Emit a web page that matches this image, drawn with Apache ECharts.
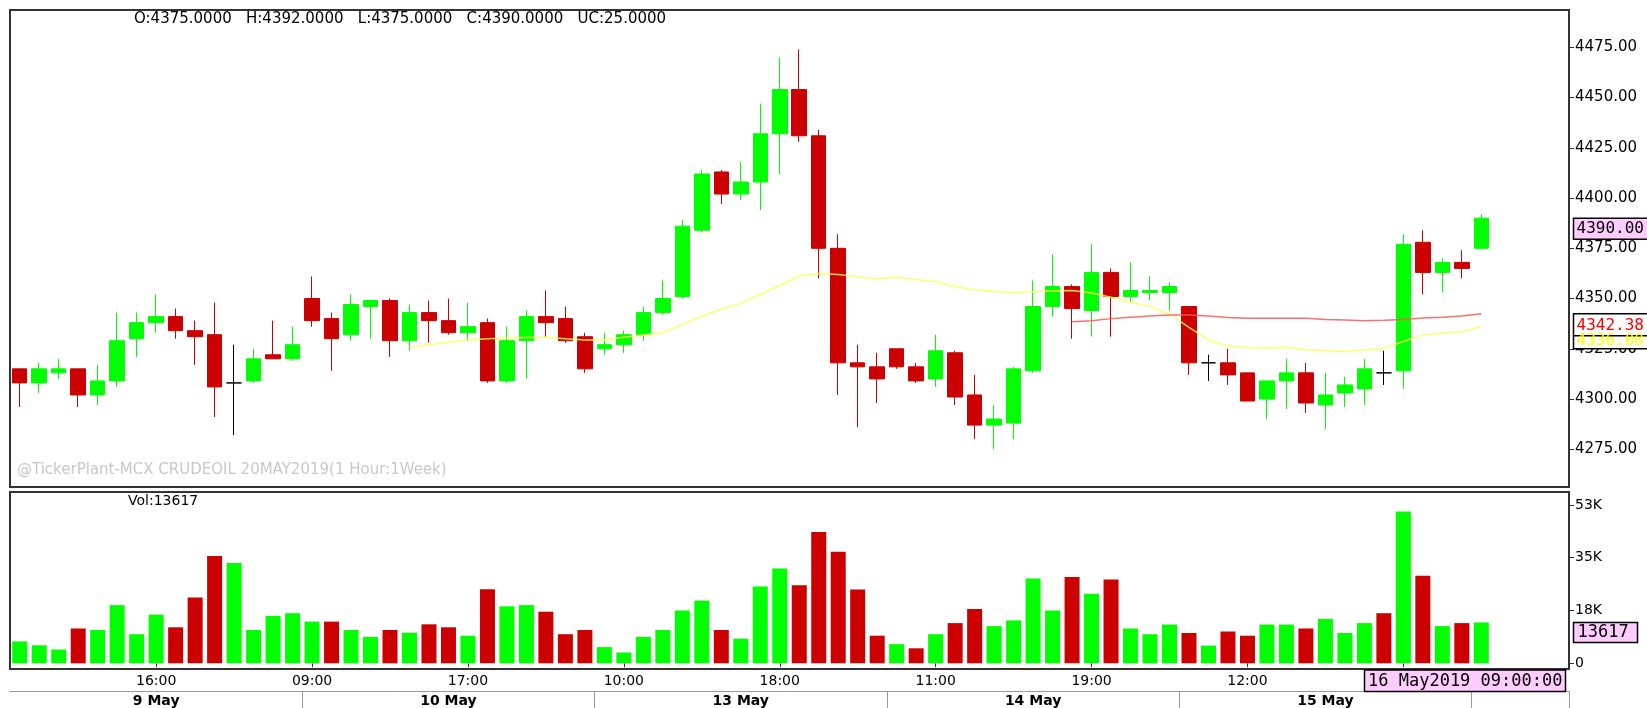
<!DOCTYPE html>
<html>
<head>
<meta charset="utf-8">
<title>MCX CRUDEOIL 20MAY2019</title>
<script src="https://cdn.jsdelivr.net/npm/echarts@6/dist/echarts.min.js"></script>
<style>
  html, body { margin: 0; padding: 0; background: #fff; }
  #chart { width: 1647px; height: 708px; }
</style>
</head>
<body>
<div id="chart"></div>
<script>
// sessions: 15 hourly bars per day, 09:00 .. 23:00
const days = ['9 May', '10 May', '13 May', '14 May', '15 May', '16 May'];
const hours = ['09', '10', '11', '12', '13', '14', '15', '16', '17', '18', '19', '20', '21', '22', '23'];
const slotCount = 80;

const opens = [
  4315, 4308, 4313, 4315, 4302, 4309, 4330, 4338, 4341, 4334,
  4332, 4308, 4309, 4322, 4320, 4350, 4340, 4332, 4346, 4349,
  4329, 4343, 4339, 4333, 4338, 4309, 4329, 4341, 4340, 4331,
  4325, 4327, 4332, 4343, 4351, 4384, 4413, 4402, 4408, 4432,
  4454, 4431, 4375, 4318, 4316, 4325, 4316, 4310, 4323, 4302,
  4287, 4288, 4314, 4346, 4356, 4344, 4363, 4351, 4353, 4353,
  4346, 4318, 4318, 4313, 4300, 4309, 4313, 4297, 4303, 4305,
  4313, 4314, 4378, 4363, 4368, 4375
];
const closes = [
  4308, 4315, 4315, 4302, 4309, 4329, 4338, 4341, 4334, 4331,
  4306, 4308, 4320, 4320, 4327, 4339, 4330, 4347, 4349, 4329,
  4343, 4339, 4333, 4336, 4309, 4329, 4341, 4338, 4329, 4315,
  4327, 4332, 4343, 4350, 4386, 4412, 4402, 4408, 4432, 4454,
  4431, 4375, 4318, 4316, 4310, 4316, 4309, 4324, 4301, 4287,
  4290, 4315, 4346, 4356, 4345, 4363, 4351, 4354, 4354, 4356,
  4318, 4318, 4312, 4299, 4309, 4313, 4298, 4302, 4307, 4315,
  4313, 4377, 4363, 4368, 4365, 4390
];
const lows = [
  4296, 4303, 4310, 4296, 4297, 4306, 4321, 4333, 4330, 4317,
  4291, 4282, 4308, 4320, 4319, 4336, 4314, 4329, 4330, 4321,
  4324, 4328, 4332, 4329, 4308, 4308, 4310, 4331, 4328, 4313,
  4322, 4323, 4329, 4342, 4350, 4383, 4397, 4399, 4394, 4412,
  4428, 4360, 4302, 4286, 4298, 4315, 4308, 4306, 4297, 4280,
  4275, 4280, 4313, 4341, 4330, 4331, 4331, 4348, 4349, 4344,
  4312, 4309, 4307, 4299, 4290, 4295, 4293, 4285, 4296, 4297,
  4307, 4305, 4352, 4353, 4360, 4375
];
const highs = [
  4315, 4318, 4320, 4315, 4317, 4343, 4343, 4352, 4345, 4339,
  4348, 4327, 4325, 4339, 4336, 4361, 4343, 4352, 4349, 4350,
  4347, 4349, 4350, 4348, 4340, 4336, 4344, 4354, 4346, 4333,
  4333, 4334, 4346, 4359, 4389, 4414, 4414, 4418, 4447, 4470,
  4474, 4434, 4382, 4327, 4323, 4325, 4318, 4332, 4324, 4312,
  4297, 4316, 4359, 4372, 4357, 4377, 4365, 4368, 4361, 4358,
  4346, 4322, 4325, 4313, 4309, 4320, 4318, 4313, 4311, 4320,
  4324, 4382, 4384, 4370, 4374, 4392
];
const volumes = [
  7300, 6000, 4600, 11600, 11100, 19400, 9700, 16200, 12000, 21900,
  35800, 33400, 11100, 15800, 16700, 13900, 13900, 11100, 8800, 11100,
  10200, 13000, 12000, 9200, 24700, 19000, 19400, 17200, 9700, 11100,
  5400, 3600, 8800, 11100, 17600, 20900, 11100, 8200, 25600, 31600,
  26000, 43800, 37200, 24600, 9200, 6400, 5000, 9700, 13400, 18100,
  12400, 14300, 28300, 17600, 28800, 23200, 27900, 11600, 9700, 12900,
  10100, 5900, 10600, 9200, 12900, 12900, 11600, 14800, 10100, 13400,
  16700, 50600, 29200, 12400, 13400, 13617
];
// 1 = green volume bar, 0 = red
const volUp = [
  1, 1, 1, 0, 1, 1, 1, 1, 0, 0,
  0, 1, 1, 1, 1, 1, 0, 1, 1, 0,
  1, 0, 0, 1, 0, 1, 1, 0, 0, 0,
  1, 1, 1, 1, 1, 1, 0, 1, 1, 1,
  0, 0, 0, 0, 0, 1, 0, 1, 0, 0,
  1, 1, 1, 1, 0, 1, 0, 1, 1, 1,
  0, 1, 0, 0, 1, 1, 0, 1, 1, 1,
  0, 1, 0, 1, 0, 1
];
// yellow average, starts at bar 20
const maYellowStart = 20;
const maYellow = [
  4325.7, 4327.0, 4328.2, 4329.4, 4330.0, 4330.4, 4330.6, 4330.7, 4330.0, 4329.4,
  4329.4, 4330.7, 4331.8, 4333.0, 4337.0, 4341.3, 4344.5, 4347.6, 4352.0, 4356.5,
  4361.2, 4362.5, 4362.0, 4360.8, 4359.7, 4360.6, 4359.5, 4358.4, 4356.0, 4354.4,
  4353.5, 4352.9, 4353.4, 4353.8, 4354.0, 4352.8, 4350.6, 4348.2, 4346.0, 4342.3,
  4335.7, 4329.4, 4326.4, 4325.5, 4325.4, 4325.7, 4324.4, 4324.0, 4323.6, 4324.4,
  4325.2, 4328.6, 4331.9, 4332.8, 4333.5, 4336.0
];
// red average, starts at bar 54
const maRedStart = 54;
const maRed = [
  4338.5, 4339.0, 4340.0, 4340.7, 4341.3, 4341.8, 4341.8, 4341.3, 4340.6, 4340.2,
  4340.2, 4340.2, 4340.2, 4339.6, 4339.3, 4339.0, 4339.2, 4339.6, 4340.3, 4340.7,
  4341.3, 4342.38
];
const priceTicks = [4275, 4300, 4325, 4350, 4375, 4400, 4425, 4450, 4475];
const volTicks = [0, 17600, 35200, 52800];

const UP = '#00FF00';
const DOWN = '#CC0000';
const PINK = '#FFCCFF';
const FONT = 'DejaVu Sans';
const MONO = 'DejaVu Sans Mono';

let categories = [];
days.forEach(d => hours.forEach(h => categories.push(d + ' ' + h + ':00')));
categories = categories.slice(0, slotCount);

const ohlc = opens.map((o, i) => [o, closes[i], lows[i], highs[i]]);
const volData = volumes.map((v, i) => ({ value: v, itemStyle: { color: volUp[i] ? UP : DOWN } }));
const yellowLine = Array(maYellowStart).fill(null).concat(maYellow);
const redLine = Array(maRedStart).fill(null).concat(maRed);

const timeTick = (idx) => idx % 8 === 7;
const dayLabel = (idx) => idx % 15 === 7;
const dayTick = (idx) => idx % 15 === 0 && idx > 0;

const chart = echarts.init(document.getElementById('chart'));

chart.setOption({
  animation: false,
  backgroundColor: '#fff',
  textStyle: { fontFamily: FONT },
  grid: [
    { left: 10, top: 10, width: 1559, height: 477, show: true, borderColor: '#333', borderWidth: 2 },
    { left: 10, top: 492, width: 1559, height: 177, show: true, borderColor: '#333', borderWidth: 2 }
  ],
  xAxis: [
    {
      type: 'category', gridIndex: 0, data: categories, boundaryGap: true,
      axisLine: { show: false }, axisTick: { show: false }, axisLabel: { show: false }, splitLine: { show: false }
    },
    {
      type: 'category', gridIndex: 1, data: categories, position: 'bottom', boundaryGap: true,
      axisLine: { show: false },
      axisTick: { show: true, alignWithLabel: true, interval: timeTick, length: 4, lineStyle: { color: '#333' } },
      axisLabel: {
        interval: timeTick, showMaxLabel: false,
        formatter: v => v.split(' ')[2], margin: 5, color: '#000', fontSize: 14, fontFamily: FONT
      },
      splitLine: { show: false }
    },
    {
      type: 'category', gridIndex: 1, data: categories, position: 'bottom', offset: 22, boundaryGap: true,
      axisLine: { show: true, lineStyle: { color: '#999', width: 1 } },
      axisTick: { show: true, interval: dayTick, length: 17, lineStyle: { color: '#999' } },
      axisLabel: {
        interval: dayLabel,
        formatter: v => v.split(' ').slice(0, 2).join(' '),
        margin: 3, color: '#000', fontSize: 14, fontWeight: 'bold', fontFamily: FONT
      },
      splitLine: { show: false }
    }
  ],
  yAxis: [
    {
      type: 'value', gridIndex: 0, position: 'right', min: 4256.2, max: 4493.6,
      axisLine: { show: false },
      axisTick: { show: true, length: 5, customValues: priceTicks, lineStyle: { color: '#333' } },
      axisLabel: { customValues: priceTicks, formatter: v => v.toFixed(2), margin: 6, fontSize: 15, color: '#000', fontFamily: FONT },
      splitLine: { show: false }
    },
    {
      type: 'value', gridIndex: 1, position: 'right', min: -1900, max: 57100,
      axisLine: { show: false },
      axisTick: { show: true, length: 5, customValues: volTicks, lineStyle: { color: '#333' } },
      axisLabel: {
        customValues: volTicks, formatter: v => v === 0 ? '0' : Math.round(v / 1000) + 'K',
        margin: 6, fontSize: 14, color: '#000', fontFamily: FONT
      },
      splitLine: { show: false }
    }
  ],
  series: [
    {
      type: 'candlestick', xAxisIndex: 0, yAxisIndex: 0, barWidth: 15, data: ohlc,
      itemStyle: {
        color: UP, color0: DOWN, borderColor: UP, borderColor0: DOWN,
        borderColorDoji: '#000', borderWidth: 1
      }
    },
    {
      type: 'line', xAxisIndex: 0, yAxisIndex: 0, data: yellowLine, symbol: 'none', silent: true,
      lineStyle: { color: '#FFFF55', width: 1.5, opacity: 0.85 }, z: 3
    },
    {
      type: 'line', xAxisIndex: 0, yAxisIndex: 0, data: redLine, symbol: 'none', silent: true,
      lineStyle: { color: '#FF5555', width: 1.5, opacity: 0.85 }, z: 3
    },
    { type: 'bar', xAxisIndex: 1, yAxisIndex: 1, barWidth: 15, data: volData }
  ]
});

// value boxes and captions
const py = v => chart.convertToPixel({ yAxisIndex: 0 }, v);
const vy = v => chart.convertToPixel({ yAxisIndex: 1 }, v);
const last = closes.length - 1;
const boxX = 1573.5;

function box(x, y, w, h, fill) {
  return { type: 'rect', z: 100, shape: { x: x, y: y, width: w, height: h }, style: { fill: fill, stroke: '#000', lineWidth: 1.5 } };
}
function label(x, y, text, font, color) {
  return { type: 'text', z: 101, x: x, y: y, style: { text: text, font: font, fill: color, align: 'left', verticalAlign: 'middle' } };
}

const closeTop = py(closes[last]);
const redVal = maRed[maRed.length - 1];
const yellowVal = maYellow[maYellow.length - 1];
const redTop = py(redVal);
const yellowTop = Math.max(py(yellowVal), redTop + 22);
const volTop = vy(volumes[last]);
const lastCat = categories[last].split(' ');

const ohlcText = 'O:' + opens[last].toFixed(4) + '   H:' + highs[last].toFixed(4) +
  '   L:' + lows[last].toFixed(4) + '   C:' + closes[last].toFixed(4) +
  '   UC:' + (closes[last] - closes[last - 1]).toFixed(4);

chart.setOption({
  graphic: [
    label(134, 19, ohlcText, '15px ' + FONT, '#000'),
    label(17, 470, '@TickerPlant-MCX CRUDEOIL 20MAY2019(1 Hour:1Week)', '15px ' + FONT, '#c8c8c8'),
    label(128, 501, 'Vol:' + volumes[last], '14px ' + FONT, '#000'),

    box(boxX, closeTop, 80, 21, PINK),
    label(boxX + 3, closeTop + 11, closes[last].toFixed(2), '16px ' + MONO, '#000'),

    box(boxX, redTop, 80, 22, '#fff'),
    label(boxX + 3, redTop + 12, redVal.toFixed(2), '16px ' + MONO, '#FF0000'),
    box(boxX, yellowTop, 80, 13, '#fff'),
    label(boxX + 3, yellowTop + 5, yellowVal.toFixed(2), '16px ' + MONO, '#FFFF00'),

    box(boxX, volTop, 64, 20, PINK),
    label(boxX + 4, volTop + 10.5, String(volumes[last]), '17px ' + MONO, '#000'),

    box(1364.5, 670, 201, 21.5, PINK),
    label(1368, 681.5, lastCat[0] + ' ' + lastCat[1] + '2019 ' + lastCat[2] + ':00', '17px ' + MONO, '#000')
  ]
});
</script>
</body>
</html>
